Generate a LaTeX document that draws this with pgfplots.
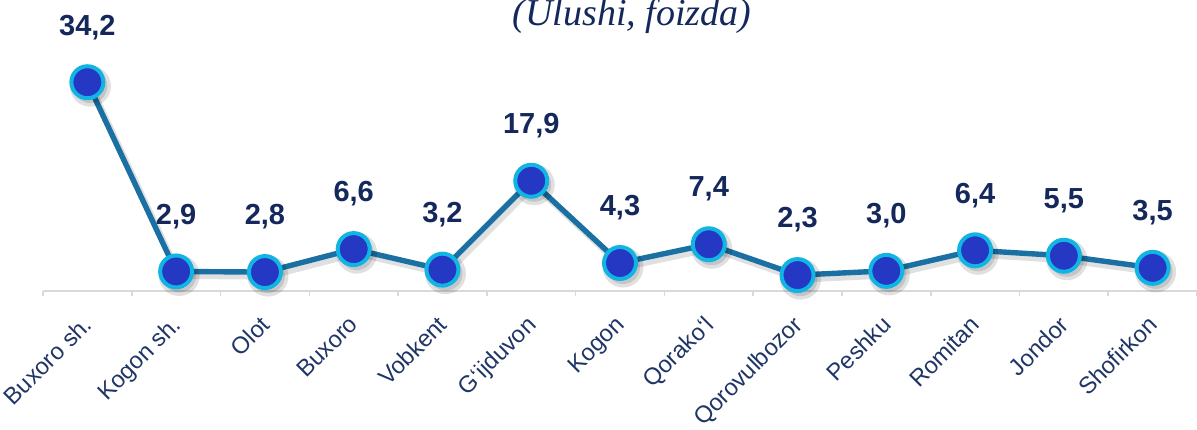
\documentclass[border=0pt]{standalone}
\usepackage{pgfplots}
\pgfplotsset{compat=1.18}
\usepackage{fontspec}
\setmainfont{Liberation Sans}
\newfontfamily\serifit{Liberation Serif}
\definecolor{linec}{HTML}{1A70A3}
\definecolor{ringc}{HTML}{12B4E3}
\definecolor{fillc}{HTML}{2438C4}
\definecolor{navy}{HTML}{14285C}
\definecolor{tickc}{HTML}{1F3566}
\begin{document}
\begin{tikzpicture}[x=1pt,y=1pt]
\useasboundingbox (-21.5,-69) rectangle (577,145.5);
\begin{axis}[
  at={(0,0)}, anchor=south west,
  scale only axis, width=577pt, height=145.5pt,
  xmin=-0.5, xmax=12.5, ymin=-0.33, ymax=47.8,
  axis x line=bottom, axis y line=none,
  axis line style={draw=black!15, line width=0.8pt, -},
  xtick={0,...,12},
  xticklabels={Buxoro sh.,Kogon sh.,Olot,Buxoro,Vobkent,G‘ijduvon,Kogon,Qorako‘l,Qorovulbozor,Peshku,Romitan,Jondor,Shofirkon},
  major tick length=0pt,
  minor xtick={-0.5,0.5,...,12.5},
  minor tick length=2.5pt,
  minor tick style={draw=black!15, line width=0.8pt},
  xtick align=outside,
  x tick label style={yshift=-10pt, xshift=-3pt, rotate=45, anchor=north east, font=\fontsize{11.8}{14}\selectfont, text=tickc, inner sep=1pt},
  clip=false,
  nodes near coords,
  point meta=explicit symbolic,
  every node near coord/.append style={font=\bfseries\fontsize{14.5}{16}\selectfont, text=navy, anchor=center, yshift=27.5pt},
]
\addplot[color=black, opacity=0.12, line width=3.5pt, mark=*, mark size=8.5pt, forget plot,
  mark options={draw=none, fill=black}, nodes near coords={}, shift={(1.5pt,-2pt)}]
coordinates {
(0,34.2) (1,2.9) (2,2.8) (3,6.6) (4,3.2) (5,17.9) (6,4.3) (7,7.4) (8,2.3) (9,3.0) (10,6.4) (11,5.5) (12,3.5)
};
\addplot[color=linec, line width=2.7pt, mark=*, mark size=8pt,
  mark options={draw=ringc, fill=fillc, line width=2pt}]
coordinates {
(0,34.2) [34,2]
(1,2.9) [2,9]
(2,2.8) [2,8]
(3,6.6) [6,6]
(4,3.2) [3,2]
(5,17.9) [17,9]
(6,4.3) [4,3]
(7,7.4) [7,4]
(8,2.3) [2,3]
(9,3.0) [3,0]
(10,6.4) [6,4]
(11,5.5) [5,5]
(12,3.5) [3,5]
};
\end{axis}
\node[font=\serifit\itshape\fontsize{19}{21}\selectfont, text=navy] at (294.5,137.5) {(Ulushi, foizda)};
\end{tikzpicture}
\end{document}
